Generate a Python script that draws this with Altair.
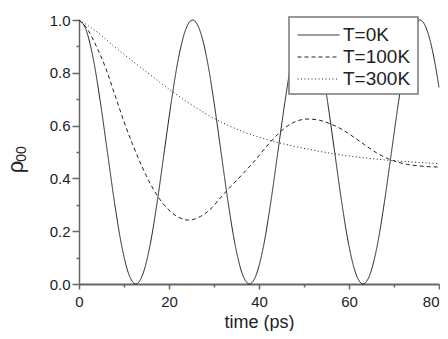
import altair as alt
import pandas as pd

series_names = ["T=0K", "T=100K", "T=300K"]

t0 = [0, 1.58, 3.16, 4.73, 6.31, 7.89, 9.47, 11.05, 12.63, 14.20, 15.78, 17.36, 18.94,
      20.52, 22.09, 23.67, 25.25, 26.83, 28.41, 29.98, 31.56, 33.14, 34.72, 36.30, 37.88,
      39.45, 41.03, 42.61, 44.19, 45.77, 47.34, 48.92, 50.50, 52.08, 53.66, 55.23, 56.81,
      58.39, 59.97, 61.55, 63.13, 64.70, 66.28, 67.86, 69.44, 71.02, 72.59, 74.17, 75.75,
      77.33, 78.91, 80]
v0 = [1.0, 0.962, 0.854, 0.691, 0.5, 0.309, 0.146, 0.038, 0.0, 0.038, 0.146, 0.309, 0.5,
      0.691, 0.854, 0.962, 1.0, 0.962, 0.854, 0.691, 0.5, 0.309, 0.146, 0.038, 0.0,
      0.038, 0.146, 0.309, 0.5, 0.691, 0.854, 0.962, 1.0, 0.962, 0.854, 0.691, 0.5,
      0.309, 0.146, 0.038, 0.0, 0.038, 0.146, 0.309, 0.5, 0.691, 0.854, 0.962, 1.0,
      0.962, 0.854, 0.745]

t100 = [0, 2, 4, 6, 8, 10, 12, 14, 16, 18, 20, 22, 24.4, 27, 29.6, 31, 33, 36, 38.7, 42.4,
        46.2, 48.5, 50.9, 53.5, 55.8, 58.5, 60.9, 63.5, 66.1, 68.5, 70.6, 73, 75.8, 78, 80]
v100 = [1.0, 0.962, 0.895, 0.815, 0.715, 0.615, 0.525, 0.445, 0.375, 0.32, 0.28, 0.254,
        0.242, 0.256, 0.29, 0.318, 0.356, 0.41, 0.46, 0.535, 0.597, 0.618, 0.625, 0.62,
        0.607, 0.585, 0.558, 0.527, 0.497, 0.476, 0.463, 0.453, 0.447, 0.444, 0.443]

t300 = [0, 4, 8, 12, 16, 20, 24, 28, 32, 36, 40, 44, 48, 52, 56, 60, 65, 70, 75, 80]
v300 = [1.0, 0.955, 0.897, 0.843, 0.79, 0.738, 0.69, 0.647, 0.61, 0.58, 0.556, 0.537,
        0.521, 0.507, 0.495, 0.485, 0.475, 0.467, 0.461, 0.456]

x_major = [0, 20, 40, 60, 80]
x_minor = [10, 30, 50, 70]
y_major = [0.0, 0.2, 0.4, 0.6, 0.8, 1.0]
y_minor = [0.1, 0.3, 0.5, 0.7, 0.9]

rows = []
for name, ts, vs in zip(series_names, [t0, t100, t300], [v0, v100, v300]):
    for t, v in zip(ts, vs):
        rows.append({"time": t, "rho": v, "series": name})
df = pd.DataFrame(rows)

FONT = "Liberation Sans"
AX = "#666666"
INK = "#222222"

xscale = alt.Scale(domain=[0, 80], nice=False, zero=False)
yscale = alt.Scale(domain=[0, 1], nice=False)

lines = alt.Chart(df).mark_line(interpolate="monotone", color=INK, strokeWidth=1).encode(
    x=alt.X("time:Q", scale=xscale,
            axis=alt.Axis(values=x_major, orient="bottom", title="time (ps)",
                          titleX=180, titleY=43, titleBaseline="alphabetic",
                          titleFontSize=18, titleFont=FONT, titleFontWeight="normal",
                          titleColor=INK, tickSize=5, tickWidth=1.5, labelPadding=5,
                          labelFontSize=15, domainWidth=2, labelFlush=False,
                          labelAlign={"condition": {"test": "datum.value == 80", "value": "right"},
                                      "value": "center"})),
    y=alt.Y("rho:Q", scale=yscale,
            axis=alt.Axis(values=y_major, format=".1f", orient="left", title=None,
                          tickSize=7, tickWidth=1.5, labelPadding=2, labelFontSize=15,
                          domainWidth=1.5, labelFlush=False)),
    strokeDash=alt.StrokeDash(
        "series:N",
        scale=alt.Scale(domain=series_names, range=[[1, 0], [4, 3], [1, 2.5]]),
        legend=alt.Legend(title=None, orient="none", legendX=209, legendY=-1,
                          symbolType="stroke", symbolSize=1764, clipHeight=22,
                          labelFontSize=19, labelFont=FONT, labelColor=INK,
                          labelOffset=3, symbolOffset=4, padding=5,
                          symbolStrokeColor=INK, symbolStrokeWidth=1,
                          rowPadding=0, labelLimit=300)),
)

legend_box = alt.Chart(pd.DataFrame({"k": [0]})).mark_rect(
    fill="white", stroke="#777777", strokeWidth=1.5
).encode(x=alt.value(210), x2=alt.value(339), y=alt.value(-3), y2=alt.value(74))

minor = alt.Chart(df).mark_line(opacity=0).encode(
    x=alt.X("time:Q", scale=xscale,
            axis=alt.Axis(values=x_minor, orient="bottom", labels=False, domain=False,
                          tickSize=3, tickWidth=1.5, title=None)),
    y=alt.Y("rho:Q", scale=yscale,
            axis=alt.Axis(values=y_minor, orient="left", labels=False, domain=False,
                          tickSize=3, tickWidth=1.5, title=None)),
)

rho_label = alt.Chart(pd.DataFrame({"s": ["ρ"]})).mark_text(
    angle=270, fontSize=22, font=FONT, color=INK, align="center", baseline="alphabetic"
).encode(text="s:N", x=alt.value(-56), y=alt.value(147))

sub_label = alt.Chart(pd.DataFrame({"s": ["00"]})).mark_text(
    angle=270, fontSize=14, font=FONT, color=INK, align="center", baseline="alphabetic"
).encode(text="s:N", x=alt.value(-53), y=alt.value(134))

chart = alt.layer(lines, minor, legend_box, rho_label, sub_label).resolve_axis(
    x="independent", y="independent"
).properties(
    width=360, height=264,
    padding={"left": 71, "top": 12, "right": 1, "bottom": 47},
    autosize=alt.AutoSizeParams(type="none"),
    background="white",
).configure_view(stroke=None).configure_axis(
    grid=False, labelFont=FONT, domainColor=AX, tickColor=AX, labelColor=INK
)

chart.save("out.html", embed_options={"renderer": "svg", "actions": False})
